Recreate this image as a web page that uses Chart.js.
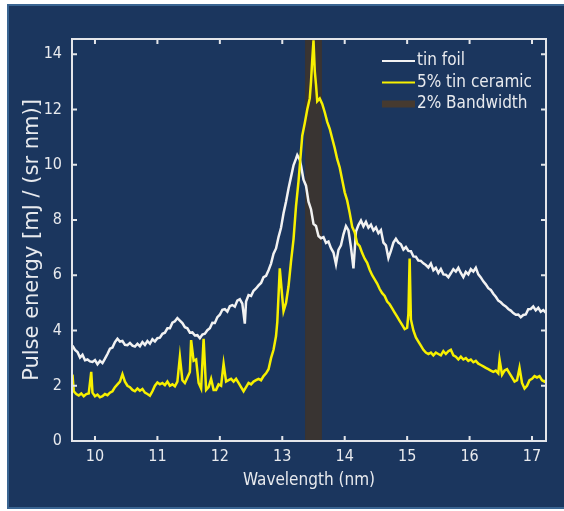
<!DOCTYPE html>
<html>
<head>
<meta charset="utf-8">
<script src="https://cdn.jsdelivr.net/npm/chart.js@4"></script>
<style>
  body { margin: 0; background: #ffffff; }
  #panel {
    position: absolute; left: 7px; top: 4px; width: 557px; height: 505px;
    box-sizing: border-box; background: #1b365e;
    border: 2px solid #3a6592; border-right: none;
  }
  #c { position: absolute; left: 0; top: 0; }
</style>
</head>
<body>
<div id="panel"></div>
<canvas id="c" width="564" height="511"></canvas>
<script>
// tin foil spectrum
const foilNm = [
  9.64, 9.68, 9.72, 9.76, 9.80, 9.84, 9.88, 9.92, 9.96, 10.00, 10.04, 10.08, 10.12, 10.16, 10.20,
  10.24, 10.28, 10.32, 10.36, 10.40, 10.44, 10.48, 10.52, 10.56, 10.60, 10.64, 10.68, 10.72, 10.76,
  10.80, 10.84, 10.88, 10.92, 10.96, 11.00, 11.04, 11.08, 11.12, 11.16, 11.20, 11.24, 11.28, 11.32,
  11.36, 11.40, 11.44, 11.48, 11.52, 11.56, 11.60, 11.64, 11.68, 11.72, 11.76, 11.80, 11.84, 11.88,
  11.92, 11.96, 12.00, 12.04, 12.08, 12.12, 12.16, 12.20, 12.24, 12.28, 12.32, 12.36, 12.40, 12.42,
  12.46, 12.50, 12.54, 12.58, 12.62, 12.66, 12.70, 12.74, 12.78, 12.82, 12.86, 12.90, 12.94, 12.98,
  13.02, 13.06, 13.10, 13.14, 13.18, 13.22, 13.24, 13.28, 13.30, 13.34, 13.38, 13.42, 13.46, 13.50,
  13.54, 13.58, 13.62, 13.66, 13.70, 13.74, 13.78, 13.82, 13.86, 13.90, 13.94, 13.98, 14.02, 14.06,
  14.10, 14.14, 14.18, 14.22, 14.26, 14.30, 14.34, 14.38, 14.42, 14.46, 14.50, 14.54, 14.58, 14.62,
  14.66, 14.70, 14.74, 14.78, 14.82, 14.86, 14.90, 14.94, 14.98, 15.02, 15.06, 15.10, 15.14, 15.18,
  15.22, 15.26, 15.30, 15.34, 15.38, 15.42, 15.46, 15.50, 15.54, 15.58, 15.62, 15.66, 15.70, 15.74,
  15.78, 15.82, 15.86, 15.90, 15.94, 15.98, 16.02, 16.06, 16.10, 16.14, 16.18, 16.22, 16.26, 16.30,
  16.34, 16.38, 16.42, 16.46, 16.50, 16.54, 16.58, 16.62, 16.66, 16.70, 16.74, 16.78, 16.82, 16.86,
  16.90, 16.94, 16.98, 17.02, 17.06, 17.10, 17.14, 17.18, 17.22
];
const foilEnergy = [
  3.45, 3.30, 3.22, 3.02, 3.12, 2.92, 2.95, 2.88, 2.86, 2.93, 2.78, 2.90, 2.82, 2.98, 3.15,
  3.34, 3.38, 3.58, 3.70, 3.60, 3.62, 3.48, 3.47, 3.55, 3.45, 3.42, 3.52, 3.43, 3.58,
  3.48, 3.62, 3.52, 3.68, 3.60, 3.72, 3.74, 3.88, 3.92, 4.08, 4.08, 4.28, 4.33, 4.45,
  4.36, 4.27, 4.12, 4.08, 3.92, 3.93, 3.82, 3.83, 3.72, 3.85, 3.88, 4.01, 4.08, 4.28,
  4.27, 4.48, 4.57, 4.75, 4.77, 4.68, 4.88, 4.92, 4.86, 5.08, 5.13, 4.97, 4.25, 5.05,
  5.28, 5.25, 5.44, 5.52, 5.63, 5.72, 5.93, 5.98, 6.18, 6.42, 6.78, 6.97, 7.38, 7.72,
  8.24, 8.66, 9.14, 9.56, 9.98, 10.22, 10.35, 10.18, 9.97, 9.46, 9.24, 8.66, 8.39, 7.86,
  7.78, 7.42, 7.34, 7.38, 7.17, 7.22, 6.98, 6.82, 6.40, 6.92, 7.08, 7.48, 7.78, 7.62,
  7.02, 6.25, 7.58, 7.82, 7.98, 7.77, 7.93, 7.72, 7.83, 7.62, 7.73, 7.52, 7.63, 7.18,
  7.08, 6.62, 6.88, 7.18, 7.32, 7.18, 7.12, 6.93, 7.02, 6.88, 6.87, 6.68, 6.67, 6.53,
  6.52, 6.43, 6.37, 6.28, 6.42, 6.18, 6.27, 6.08, 6.22, 6.03, 6.02, 5.93, 6.07, 6.22,
  6.13, 6.27, 6.08, 5.93, 6.12, 6.03, 6.22, 6.13, 6.27, 6.03, 5.92, 5.78, 5.67, 5.53,
  5.47, 5.33, 5.22, 5.08, 5.02, 4.93, 4.87, 4.78, 4.72, 4.63, 4.57, 4.58, 4.48, 4.56,
  4.58, 4.77, 4.78, 4.87, 4.73, 4.82, 4.68, 4.74, 4.65
];

// 5% tin ceramic spectrum
const ceramicNm = [
  9.64, 9.66, 9.70, 9.74, 9.78, 9.82, 9.86, 9.90, 9.94, 9.96, 10.00, 10.04, 10.08, 10.12, 10.16,
  10.20, 10.24, 10.28, 10.32, 10.36, 10.40, 10.44, 10.48, 10.52, 10.56, 10.60, 10.64, 10.68, 10.72,
  10.76, 10.80, 10.84, 10.88, 10.92, 10.96, 11.00, 11.04, 11.08, 11.12, 11.16, 11.20, 11.24, 11.28,
  11.32, 11.36, 11.40, 11.44, 11.48, 11.52, 11.54, 11.58, 11.62, 11.66, 11.70, 11.74, 11.78, 11.82,
  11.86, 11.90, 11.94, 11.98, 12.02, 12.06, 12.10, 12.14, 12.18, 12.22, 12.26, 12.30, 12.34, 12.38,
  12.42, 12.46, 12.50, 12.54, 12.58, 12.62, 12.66, 12.70, 12.74, 12.78, 12.82, 12.86, 12.90, 12.92,
  12.96, 13.00, 13.02, 13.06, 13.10, 13.14, 13.18, 13.22, 13.26, 13.30, 13.32, 13.36, 13.40, 13.44,
  13.46, 13.48, 13.50, 13.52, 13.54, 13.56, 13.60, 13.64, 13.68, 13.72, 13.76, 13.80, 13.84, 13.88,
  13.92, 13.96, 14.00, 14.04, 14.08, 14.12, 14.16, 14.20, 14.24, 14.28, 14.32, 14.36, 14.40, 14.44,
  14.48, 14.52, 14.56, 14.60, 14.64, 14.68, 14.72, 14.76, 14.80, 14.84, 14.88, 14.92, 14.96, 15.00,
  15.02, 15.04, 15.06, 15.10, 15.14, 15.18, 15.22, 15.26, 15.30, 15.34, 15.38, 15.42, 15.46, 15.50,
  15.54, 15.58, 15.62, 15.66, 15.70, 15.74, 15.78, 15.82, 15.86, 15.90, 15.94, 15.98, 16.02, 16.06,
  16.10, 16.14, 16.18, 16.22, 16.26, 16.30, 16.34, 16.38, 16.42, 16.46, 16.48, 16.52, 16.56, 16.60,
  16.64, 16.68, 16.72, 16.76, 16.80, 16.84, 16.88, 16.92, 16.96, 17.00, 17.04, 17.08, 17.12, 17.16,
  17.20, 17.22
];
const ceramicEnergy = [
  2.40, 1.80, 1.70, 1.65, 1.72, 1.62, 1.70, 1.72, 2.50, 1.75, 1.62, 1.68, 1.58, 1.62, 1.70,
  1.66, 1.75, 1.80, 1.95, 2.05, 2.15, 2.42, 2.15, 2.00, 1.95, 1.85, 1.80, 1.90, 1.82,
  1.88, 1.75, 1.70, 1.64, 1.80, 2.00, 2.12, 2.05, 2.10, 2.02, 2.15, 2.00, 2.05, 1.98,
  2.15, 3.05, 2.20, 2.10, 2.30, 2.50, 3.65, 2.90, 2.95, 2.10, 1.90, 3.70, 1.85, 1.95,
  2.25, 1.85, 1.85, 2.05, 2.00, 2.80, 2.15, 2.20, 2.25, 2.15, 2.25, 2.10, 1.95, 1.80,
  1.95, 2.10, 2.05, 2.15, 2.20, 2.25, 2.20, 2.35, 2.45, 2.60, 3.00, 3.30, 3.80, 4.30,
  6.25, 5.20, 4.70, 5.00, 5.60, 6.50, 7.30, 8.50, 9.40, 10.50, 11.05, 11.50, 12.00, 12.40,
  13.00, 13.80, 14.50, 13.40, 12.90, 12.30, 12.40, 12.20, 11.90, 11.55, 11.30, 10.95, 10.60, 10.20,
  9.90, 9.45, 9.00, 8.70, 8.25, 7.75, 7.55, 7.15, 7.05, 6.80, 6.60, 6.45, 6.20, 6.00,
  5.85, 5.70, 5.50, 5.35, 5.25, 5.05, 4.95, 4.80, 4.65, 4.50, 4.35, 4.20, 4.05, 4.10,
  4.60, 6.60, 4.40, 4.00, 3.75, 3.60, 3.45, 3.30, 3.20, 3.15, 3.20, 3.10, 3.20, 3.15,
  3.10, 3.25, 3.15, 3.25, 3.30, 3.10, 3.05, 2.95, 3.05, 2.95, 3.00, 2.90, 2.95, 2.85,
  2.90, 2.80, 2.75, 2.70, 2.65, 2.60, 2.55, 2.50, 2.55, 2.45, 2.95, 2.40, 2.55, 2.60,
  2.45, 2.30, 2.15, 2.20, 2.65, 2.10, 1.90, 2.00, 2.20, 2.25, 2.35, 2.30, 2.35, 2.20,
  2.15, 2.20
];

// 2% bandwidth around 13.5 nm
const bandEdges = [13.365, 13.635];

const xRange = [9.632, 17.224];
const yRange = [0, 14.55];

const textColor = '#e8eaee';
Chart.defaults.font.family = '"DejaVu Sans Condensed", "DejaVu Sans", sans-serif';
Chart.defaults.color = textColor;

const pairs = (xs, ys) => xs.map((x, i) => ({ x: x, y: ys[i] }));

// box with inward ticks on all four sides
const frame = {
  id: 'frame',
  afterDatasetsDraw(chart) {
    const { ctx, chartArea: a, scales: { x, y } } = chart;
    ctx.save();
    ctx.strokeStyle = '#e4e6ea';
    ctx.lineWidth = 2;
    ctx.strokeRect(a.left, a.top, a.right - a.left, a.bottom - a.top);
    ctx.beginPath();
    x.ticks.forEach(t => {
      const px = x.getPixelForValue(t.value);
      ctx.moveTo(px, a.bottom); ctx.lineTo(px, a.bottom - 5);
      ctx.moveTo(px, a.top); ctx.lineTo(px, a.top + 5);
    });
    y.ticks.forEach(t => {
      const py = y.getPixelForValue(t.value);
      ctx.moveTo(a.left, py); ctx.lineTo(a.left + 5, py);
      ctx.moveTo(a.right, py); ctx.lineTo(a.right - 5, py);
    });
    ctx.stroke();
    ctx.restore();
  }
};

// legend drawn inside the plot, top right
const insideLegend = {
  id: 'insideLegend',
  afterDraw(chart) {
    const { ctx, chartArea: a } = chart;
    ctx.save();
    ctx.font = '17px "DejaVu Sans Condensed", "DejaVu Sans", sans-serif';
    ctx.textBaseline = 'middle';
    ctx.fillStyle = textColor;
    chart.data.datasets.forEach((ds, i) => {
      const yy = a.top + 22 + i * 21.5;
      const x0 = a.left + 310;
      ctx.strokeStyle = ds.legendColor;
      ctx.lineWidth = ds.legendWidth;
      ctx.beginPath();
      ctx.moveTo(x0, yy);
      ctx.lineTo(x0 + 33, yy);
      ctx.stroke();
      ctx.fillText(ds.label, x0 + 35, yy);
    });
    ctx.restore();
  }
};

new Chart('c', {
  type: 'line',
  data: {
    datasets: [
      {
        label: 'tin foil',
        data: pairs(foilNm, foilEnergy),
        borderColor: '#f2f2f2',
        legendColor: '#f2f2f2',
        legendWidth: 2,
        borderWidth: 2.5,
        pointRadius: 0,
        tension: 0,
        order: 2
      },
      {
        label: '5% tin ceramic',
        data: pairs(ceramicNm, ceramicEnergy),
        borderColor: '#f7f000',
        legendColor: '#f7f000',
        legendWidth: 2,
        borderWidth: 2.5,
        pointRadius: 0,
        tension: 0,
        order: 1
      },
      {
        label: '2% Bandwidth',
        data: bandEdges.map(x => ({ x: x, y: yRange[1] })),
        borderWidth: 0,
        borderColor: 'rgba(0,0,0,0)',
        backgroundColor: '#393432',
        legendColor: '#463a30',
        legendWidth: 7,
        fill: 'origin',
        pointRadius: 0,
        order: 3
      }
    ]
  },
  options: {
    responsive: false,
    animation: false,
    layout: { padding: { left: 0, right: 18, top: 39, bottom: 0 } },
    plugins: { legend: { display: false }, tooltip: { enabled: false } },
    scales: {
      x: {
        type: 'linear',
        min: xRange[0],
        max: xRange[1],
        grid: { display: false, drawTicks: false },
        border: { display: false },
        ticks: { stepSize: 1, includeBounds: false, padding: 6, font: { size: 16 } },
        title: { display: true, text: 'Wavelength (nm)', font: { size: 17 }, padding: { top: 0, bottom: 20 } },
        afterFit(scale) { scale.height = 70; }
      },
      y: {
        min: yRange[0],
        max: yRange[1],
        grid: { display: false, drawTicks: false },
        border: { display: false },
        ticks: { stepSize: 2, includeBounds: false, padding: 10, font: { size: 16 } },
        title: {
          display: true, text: 'Pulse energy [mJ / (sr nm)]',
          font: { size: 21, family: '"DejaVu Sans", sans-serif' },
          padding: { top: 20, bottom: 0 }
        },
        afterFit(scale) { scale.width = 72; }
      }
    }
  },
  plugins: [frame, insideLegend]
});
</script>
</body>
</html>
